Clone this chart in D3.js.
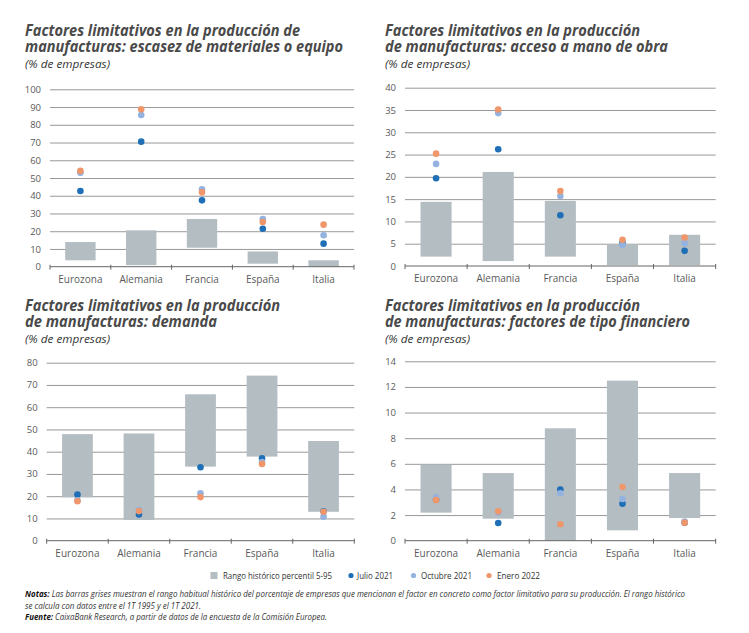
<!DOCTYPE html>
<html>
<head>
<meta charset="utf-8">
<script src="https://cdn.jsdelivr.net/npm/d3@7"></script>
<style>
  html, body { margin: 0; padding: 0; background: #ffffff; }
  svg { display: block; }
</style>
</head>
<body>
<svg id="chart" width="749" height="633"></svg>
<script>
// ---------- DATA ----------
const categories = ["Eurozona", "Alemania", "Francia", "España", "Italia"];

// Panel 1: escasez de materiales o equipo
const materialesLow  = [3.6, 0.9, 10.7, 1.7, 0];
const materialesHigh = [13.9, 20.5, 26.9, 8.6, 3.6];
const materialesJul  = [42.7, 70.5, 37.4, 21.4, 13];
const materialesOct  = [53, 85.5, 43.6, 26.9, 17.7];
const materialesEne  = [54, 88.7, 41.9, 25.2, 23.7];
const materialesTicks = [0, 10, 20, 30, 40, 50, 60, 70, 80, 90, 100];

// Panel 2: acceso a mano de obra
const manoObraLow  = [2.1, 1.1, 2.1, 0.2, 0.2];
const manoObraHigh = [14.4, 21.1, 14.6, 4.9, 7.0];
const manoObraJul  = [19.7, 26.2, 11.4, 5.2, 3.4];
const manoObraOct  = [22.9, 34.3, 15.7, 4.7, 5.1];
const manoObraEne  = [25.2, 35.1, 16.8, 5.9, 6.4];
const manoObraTicks = [0, 5, 10, 15, 20, 25, 30, 35, 40];

// Panel 3: demanda
const demandaLow  = [19.5, 9.3, 33.3, 37.8, 13.0];
const demandaHigh = [47.9, 48.2, 65.8, 74.2, 44.8];
const demandaJul  = [20.7, 11.8, 33, 37, 13.2];
const demandaOct  = [18.2, 13.8, 21.3, 35.4, 10.8];
const demandaEne  = [17.7, 13.3, 19.6, 34.5, 13];
const demandaTicks = [0, 10, 20, 30, 40, 50, 60, 70, 80];

// Panel 4: factores de tipo financiero
const financieroLow  = [2.19, 1.72, 0, 0.81, 1.77];
const financieroHigh = [5.93, 5.28, 8.77, 12.49, 5.28];
const financieroJul  = [3.2, 1.38, 4.0, 2.89, 1.4];
const financieroOct  = [3.38, 2.2, 3.7, 3.25, 1.5];
const financieroEne  = [3.17, 2.29, 1.28, 4.19, 1.41];
const financieroTicks = [0, 2, 4, 6, 8, 10, 12, 14];

const seriesNames = ["Rango histórico percentil 5-95", "Julio 2021", "Octubre 2021", "Enero 2022"];

const titles = [
  ["Factores limitativos en la producción de", "manufacturas: escasez de materiales o equipo"],
  ["Factores limitativos en la producción", "de manufacturas: acceso a mano de obra"],
  ["Factores limitativos en la producción", "de manufacturas: demanda"],
  ["Factores limitativos en la producción", "de manufacturas: factores de tipo financiero"]
];
const subtitle = "(% de empresas)";

// ---------- STYLE ----------
const COL_BAR = "#b3bdc2";
const COL_JUL = "#1f6fb6";
const COL_OCT = "#93b2df";
const COL_ENE = "#f0966b";
const COL_GRID = "#8c8c8c";
const COL_TXT = "#5a5a5a";
const FONT = "'Open Sans', 'Noto Sans', sans-serif";
const NARROW = "'Liberation Sans Narrow', 'Open Sans', sans-serif";

const svg = d3.select("#chart");

const panels = [
  { low: materialesLow, high: materialesHigh, jul: materialesJul, oct: materialesOct, ene: materialesEne, ticks: materialesTicks,
    x0: 50, x1: 354, yTop: 89.3, yBot: 266.7, title: titles[0], tx: 25, tb: [36, 52], tw: [275, 318], sb: 67.5 },
  { low: manoObraLow, high: manoObraHigh, jul: manoObraJul, oct: manoObraOct, ene: manoObraEne, ticks: manoObraTicks,
    x0: 405, x1: 715.7, yTop: 87.7, yBot: 266, title: titles[1], tx: 385, tb: [36, 52], tw: [255, 283], sb: 67.5 },
  { low: demandaLow, high: demandaHigh, jul: demandaJul, oct: demandaOct, ene: demandaEne, ticks: demandaTicks,
    x0: 46.7, x1: 354.3, yTop: 362.7, yBot: 540.7, title: titles[2], tx: 25, tb: [311, 327], tw: [255, 192], sb: 342.5 },
  { low: financieroLow, high: financieroHigh, jul: financieroJul, oct: financieroOct, ene: financieroEne, ticks: financieroTicks,
    x0: 405, x1: 715.7, yTop: 361.3, yBot: 540.7, title: titles[3], tx: 385, tb: [311, 327], tw: [255, 305], sb: 342.5 }
];

panels.forEach(p => {
  const g = svg.append("g");
  const maxV = d3.max(p.ticks);
  const x = d3.scaleBand().domain(categories).range([p.x0, p.x1]).paddingInner(0.5).paddingOuter(0.25);
  const y = d3.scaleLinear().domain([0, maxV]).range([p.yBot, p.yTop]);

  // Titles
  p.title.forEach((t, i) => {
    g.append("text")
      .attr("x", p.tx).attr("y", p.tb[i])
      .attr("font-family", FONT).attr("font-weight", 700).attr("font-style", "italic")
      .attr("font-size", 15.5).attr("fill", "#4a4a4a")
      .attr("textLength", p.tw[i]).attr("lengthAdjust", "spacingAndGlyphs")
      .text(t);
  });
  g.append("text")
    .attr("x", p.tx).attr("y", p.sb)
    .attr("font-family", FONT).attr("font-style", "italic")
    .attr("font-size", 11).attr("fill", "#333")
    .attr("textLength", 85).attr("lengthAdjust", "spacingAndGlyphs")
    .text(subtitle);

  // Gridlines (skip 0: axis)
  const yAxis = d3.axisLeft(y).tickValues(p.ticks).tickSize(-(p.x1 - p.x0)).tickPadding(9).tickFormat(d3.format("d"));
  const ya = g.append("g").attr("transform", `translate(${p.x0},0)`).call(yAxis);
  ya.select(".domain").remove();
  ya.selectAll(".tick line").attr("stroke", COL_GRID).attr("stroke-width", 0.9)
    .filter(d => d === 0).remove();
  ya.selectAll(".tick text").attr("font-family", FONT).attr("font-size", 9.5).attr("fill", COL_TXT);

  // Bars (historical range)
  g.selectAll("rect.bar").data(categories).enter().append("rect")
    .attr("class", "bar")
    .attr("x", d => x(d))
    .attr("width", x.bandwidth())
    .attr("y", (d, i) => y(p.high[i]))
    .attr("height", (d, i) => y(p.low[i]) - y(p.high[i]))
    .attr("fill", COL_BAR);

  // X axis baseline with boundary ticks
  const step = x.step();
  g.append("line").attr("x1", p.x0).attr("x2", p.x1).attr("y1", y(0)).attr("y2", y(0))
    .attr("stroke", "#666").attr("stroke-width", 1);
  d3.range(categories.length + 1).forEach(i => {
    g.append("line").attr("x1", p.x0 + i * step).attr("x2", p.x0 + i * step)
      .attr("y1", y(0) - 2).attr("y2", y(0) + 3)
      .attr("stroke", "#666").attr("stroke-width", 1);
  });
  g.selectAll("text.cat").data(categories).enter().append("text")
    .attr("class", "cat")
    .attr("x", d => x(d) + x.bandwidth() / 2)
    .attr("y", y(0) + 16)
    .attr("text-anchor", "middle")
    .attr("font-family", FONT).attr("font-size", 10).attr("fill", COL_TXT)
    .text(d => d);

  // Dots: Julio, Octubre, Enero (Enero on top)
  [[p.jul, COL_JUL], [p.oct, COL_OCT], [p.ene, COL_ENE]].forEach(([vals, col]) => {
    g.selectAll(null).data(categories).enter().append("circle")
      .attr("cx", d => x(d) + x.bandwidth() / 2)
      .attr("cy", (d, i) => y(vals[i]))
      .attr("r", 3.3)
      .attr("fill", col);
  });
});

// ---------- LEGEND ----------
const legend = svg.append("g");
const legY = 579;
legend.append("rect").attr("x", 210.5).attr("y", legY - 7).attr("width", 7).attr("height", 7).attr("fill", COL_BAR);
const legItems = [
  { x: 223, w: 109, text: seriesNames[0] },
  { x: 357, w: 36, text: seriesNames[1], dot: 351, col: COL_JUL },
  { x: 421, w: 51, text: seriesNames[2], dot: 413.5, col: COL_OCT },
  { x: 497, w: 43, text: seriesNames[3], dot: 489, col: COL_ENE }
];
legItems.forEach(it => {
  if (it.dot) legend.append("circle").attr("cx", it.dot).attr("cy", legY - 3.5).attr("r", 2.6).attr("fill", it.col);
  legend.append("text").attr("x", it.x).attr("y", legY)
    .attr("font-family", NARROW).attr("font-size", 9.5).attr("fill", "#333")
    .attr("textLength", it.w).attr("lengthAdjust", "spacingAndGlyphs")
    .text(it.text);
});

// ---------- NOTES ----------
const notes = svg.append("g").attr("font-family", NARROW).attr("font-size", 8.5).attr("fill", "#333").attr("font-style", "italic");
const n1 = notes.append("text").attr("x", 25).attr("y", 597).attr("textLength", 660).attr("lengthAdjust", "spacingAndGlyphs");
n1.append("tspan").attr("font-weight", 700).attr("fill", "#111").text("Notas: ");
n1.append("tspan").text("Las barras grises muestran el rango habitual histórico del porcentaje de empresas que mencionan el factor en concreto como factor limitativo para su producción. El rango histórico");
notes.append("text").attr("x", 25).attr("y", 608.5).attr("textLength", 176).attr("lengthAdjust", "spacingAndGlyphs")
  .text("se calcula con datos entre el 1T 1995 y el 1T 2021.");
const n3 = notes.append("text").attr("x", 25).attr("y", 620).attr("textLength", 302).attr("lengthAdjust", "spacingAndGlyphs");
n3.append("tspan").attr("font-weight", 700).attr("fill", "#111").text("Fuente: ");
n3.append("tspan").text("CaixaBank Research, a partir de datos de la encuesta de la Comisión Europea.");
</script>
</body>
</html>
